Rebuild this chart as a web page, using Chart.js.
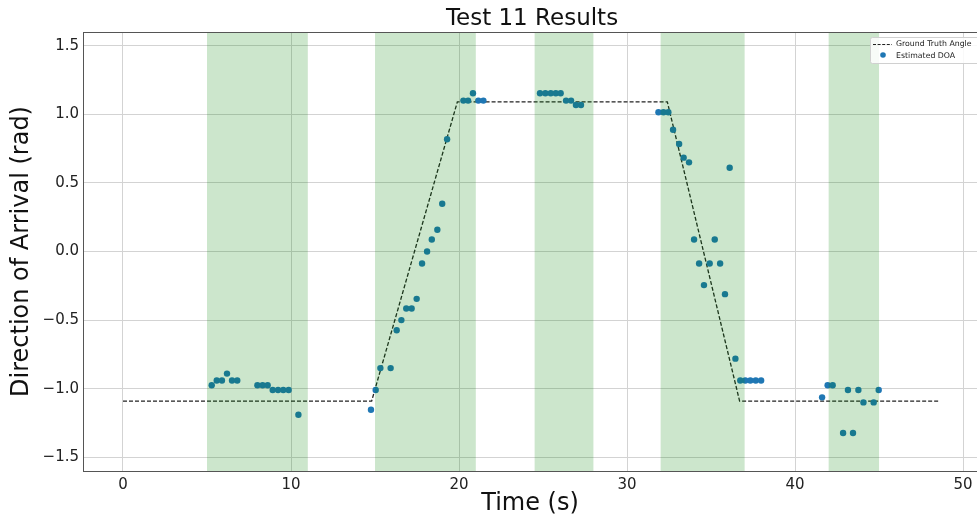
<!DOCTYPE html>
<html>
<head>
<meta charset="utf-8">
<script src="https://cdn.jsdelivr.net/npm/chart.js@4/dist/chart.umd.min.js"></script>
<style>
  html, body { margin: 0; padding: 0; background: #fff; }
  #wrap { width: 977px; height: 516px; }
</style>
</head>
<body>
<div id="wrap"><canvas id="c" width="977" height="516"></canvas></div>
<script>
// Ground truth angle (piecewise)
const truthTime  = [0, 14.8, 19.9, 32.4, 36.7, 48.6];
const truthAngle = [-1.09, -1.09, 1.09, 1.09, -1.09, -1.09];

// Estimated DOA points
const doaTime = [
  5.28, 5.58, 5.89, 6.19, 6.49, 6.8, 8.0, 8.31, 8.61, 8.91, 9.23, 9.54, 9.86, 10.44,
  14.76, 15.04, 15.32, 15.93, 16.29, 16.57, 16.86, 17.18, 17.48, 17.8, 18.1, 18.38, 18.71, 19.0, 19.29,
  20.26, 20.54, 20.83, 21.15, 21.45,
  24.82, 25.14, 25.46, 25.76, 26.05, 26.37, 26.67, 26.96, 27.26,
  31.87, 32.17, 32.46, 32.74, 33.1, 33.37, 33.69, 33.99, 34.29, 34.58, 34.92, 35.22, 35.54, 35.83,
  36.11, 36.45, 36.74, 37.04, 37.34, 37.66, 37.98,
  41.61, 41.94, 42.24, 42.86, 43.15, 43.45, 43.77, 44.07, 44.68, 44.98
];
const doaAngle = [
  -0.975, -0.94, -0.94, -0.89, -0.94, -0.94, -0.975, -0.975, -0.975, -1.01, -1.01, -1.01, -1.01, -1.19,
  -1.153, -1.01, -0.85, -0.85, -0.574, -0.5, -0.416, -0.416, -0.345, -0.088, 0.0, 0.088, 0.159, 0.348, 0.818,
  1.10, 1.10, 1.153, 1.10, 1.10,
  1.153, 1.153, 1.153, 1.153, 1.153, 1.10, 1.10, 1.068, 1.068,
  1.015, 1.015, 1.015, 0.888, 0.784, 0.684, 0.65, 0.088, -0.088, -0.245, -0.088, 0.088, -0.088, -0.311,
  0.611, -0.781, -0.94, -0.94, -0.94, -0.94, -0.94,
  -1.063, -0.975, -0.975, -1.323, -1.01, -1.323, -1.01, -1.10, -1.10, -1.01
];

// Shaded (active) intervals
const activeStart = [5, 15, 24.5, 32, 42];
const activeEnd   = [11, 21, 28, 37, 45];

const xTicks = [0, 10, 20, 30, 40, 50];
const yTicks = [-1.5, -1.0, -0.5, 0.0, 0.5, 1.0, 1.5];

const chartTitle = 'Test 11 Results';

const FONT = "'DejaVu Sans', sans-serif";
const BLUE = '#1f77b4';

function fmt(v, digits) {
  const s = Math.abs(v).toFixed(digits);
  return v < 0 ? '\u2212' + s : s;
}

// green spans over the data, like axvspan with alpha
const spanPlugin = {
  id: 'spans',
  afterDatasetsDraw(chart) {
    const {ctx, chartArea, scales: {x}} = chart;
    ctx.save();
    ctx.fillStyle = 'rgba(0,128,0,0.2)';
    for (let i = 0; i < activeStart.length; i++) {
      const a = x.getPixelForValue(activeStart[i]);
      const b = x.getPixelForValue(activeEnd[i]);
      ctx.fillRect(a, chartArea.top, b - a, chartArea.bottom - chartArea.top);
    }
    ctx.restore();
  }
};

// frame, title (centred on the axes, figure is cut on the right) and legend box
const framePlugin = {
  id: 'frame',
  afterDraw(chart) {
    const {ctx, chartArea} = chart;
    ctx.save();
    ctx.strokeStyle = '#555';
    ctx.lineWidth = 1;
    ctx.strokeRect(chartArea.left + 0.5, chartArea.top + 0.5,
                   chartArea.right - chartArea.left + 4, chartArea.bottom - chartArea.top);

    ctx.fillStyle = '#111';
    ctx.font = '23px ' + FONT;
    ctx.textAlign = 'center';
    ctx.textBaseline = 'middle';
    ctx.fillText(chartTitle, 532, 19);

    // legend
    const lx = 870.5, ly = 37.5, lw = 112, lh = 26;
    ctx.fillStyle = 'rgba(255,255,255,0.85)';
    ctx.strokeStyle = '#d0d0d0';
    ctx.beginPath();
    ctx.roundRect(lx, ly, lw, lh, 2);
    ctx.fill();
    ctx.stroke();

    const ds = chart.data.datasets;
    ctx.strokeStyle = '#222';
    ctx.lineWidth = 1.1;
    ctx.setLineDash([3, 1.6]);
    ctx.beginPath();
    ctx.moveTo(873, 44.5);
    ctx.lineTo(892, 44.5);
    ctx.stroke();
    ctx.setLineDash([]);

    ctx.fillStyle = BLUE;
    ctx.beginPath();
    ctx.arc(883, 55, 2.8, 0, Math.PI * 2);
    ctx.fill();

    ctx.fillStyle = '#222';
    ctx.font = '7.8px ' + FONT;
    ctx.textAlign = 'left';
    ctx.fillText(ds[0].label, 896, 44);
    ctx.fillText(ds[1].label, 896, 55.5);
    ctx.restore();
  }
};

new Chart(document.getElementById('c'), {
  data: {
    datasets: [
      {
        type: 'line',
        label: 'Ground Truth Angle',
        data: truthTime.map((t, i) => ({x: t, y: truthAngle[i]})),
        borderColor: '#222',
        borderWidth: 1.3,
        borderDash: [4, 2],
        pointRadius: 0,
        fill: false,
        tension: 0,
        order: 2
      },
      {
        type: 'scatter',
        label: 'Estimated DOA',
        data: doaTime.map((t, i) => ({x: t, y: doaAngle[i]})),
        backgroundColor: BLUE,
        borderWidth: 0,
        pointRadius: 3.2,
        order: 1
      }
    ]
  },
  options: {
    responsive: false,
    animation: false,
    layout: { autoPadding: false, padding: { top: 32, left: 0, right: 0, bottom: 0 } },
    plugins: {
      legend: { display: false },
      tooltip: { enabled: false },
      title: { display: false }
    },
    scales: {
      x: {
        type: 'linear',
        min: -2.38,
        max: 50.83,
        afterFit(s) { s.height = 45; s.paddingRight = 0; s.paddingLeft = 0; },
        afterBuildTicks(s) { s.ticks = xTicks.map(v => ({value: v})); },
        grid: { color: '#d3d3d3', lineWidth: 1, drawTicks: false },
        border: { display: false },
        ticks: {
          padding: 5,
          color: '#222',
          font: { family: FONT, size: 15 },
          callback: v => fmt(v, 0)
        },
        title: {
          display: true,
          text: 'Time (s)',
          color: '#111',
          font: { family: FONT, size: 24, lineHeight: 1 },
          padding: { top: 0, bottom: 0 }
        }
      },
      y: {
        type: 'linear',
        min: -1.6,
        max: 1.6,
        afterFit(s) { s.width = 83; s.paddingTop = 0; s.paddingBottom = 0; },
        afterBuildTicks(s) { s.ticks = yTicks.map(v => ({value: v})); },
        grid: { color: '#d3d3d3', lineWidth: 1, drawTicks: false },
        border: { display: false },
        ticks: {
          padding: 4,
          color: '#222',
          font: { family: FONT, size: 15 },
          callback: v => fmt(v, 1)
        },
        title: {
          display: true,
          text: 'Direction of Arrival (rad)',
          color: '#111',
          font: { family: FONT, size: 24, lineHeight: 1 },
          padding: { top: 10, bottom: 0 }
        }
      }
    }
  },
  plugins: [spanPlugin, framePlugin]
});
</script>
</body>
</html>
